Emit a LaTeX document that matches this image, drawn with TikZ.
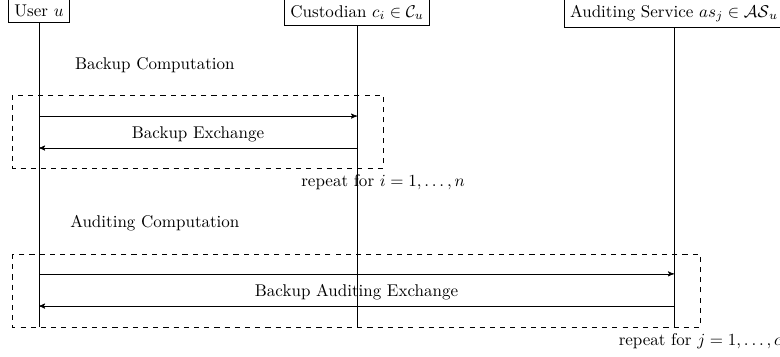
\documentclass[tikz,border=0pt]{standalone}
\usepackage{color,xcolor}
\usepackage{pgf,tikz}
\usetikzlibrary{arrows,positioning}

\begin{document}
\begin{tikzpicture}[>=stealth']
\tikzset{party/.style={draw,anchor=north},
  loopbox/.style={draw,dashed}}
\useasboundingbox (0,0) rectangle (16.12,-7.36);
% parties
\node[party] (user) at (0.806,0.02) {User $u$};
\node[party] (cust) at (7.38,0.02) {Custodian $c_i \in \mathcal{C}_u$};
\node[party] (aud) at (13.93,0.02) {Auditing Service $as_j \in \mathcal{AS}_u$};
\coordinate (bot) at (0,-6.76);
\draw (user.south) -- (user.south |- bot);
\draw (cust.south) -- (cust.south |- bot);
\draw (aud.south) -- (aud.south |- bot);
% backup loop
\coordinate (bnw) at (0.248,-1.964);
\coordinate (bse) at (7.917,-3.473);
\coordinate (ba) at (0,-2.398);
\coordinate (bb) at (0,-3.059);
\draw[loopbox] (bnw) rectangle (bse);
\node (bcomp) at (3.20,-1.34) {Backup Computation};
\draw[->] (user |- ba) -- (cust |- ba);
\draw[->] (cust |- bb) -- node[above] (bex) {Backup Exchange} (user |- bb);
\node[below] (brep) at (bse) {repeat for $i = 1, \ldots, n$};
% auditing loop
\coordinate (anw) at (0.248,-5.25);
\coordinate (ase) at (14.47,-6.76);
\coordinate (aa) at (0,-5.66);
\coordinate (ab) at (0,-6.325);
\draw[loopbox] (anw) rectangle (ase);
\node (acomp) at (3.20,-4.61) {Auditing Computation};
\draw[->] (user |- aa) -- (aud |- aa);
\draw[->] (aud |- ab) -- node[above] (aex) {Backup Auditing Exchange} (user |- ab);
\node[below] (arep) at (ase) {repeat for $j = 1, \ldots, c$};
\end{tikzpicture}
\end{document}
